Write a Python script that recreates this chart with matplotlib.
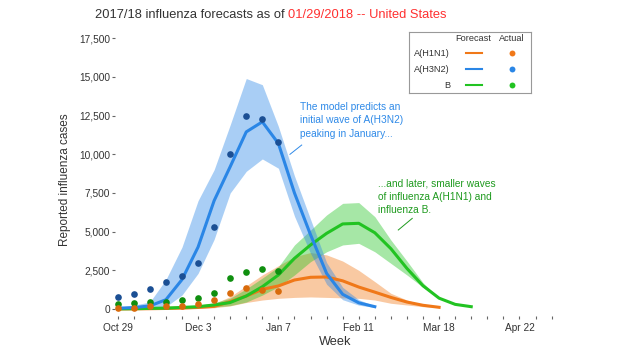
"""2017/18 influenza forecast chart"""
import matplotlib.pyplot as plt
import numpy as np

plt.rcParams['font.family'] = ['Liberation Sans', 'DejaVu Sans']

# weeks counted from Oct 29, 2017
tick_weeks = [0, 5, 10, 15, 20, 25]
tick_labels = ['Oct 29', 'Dec 3', 'Jan 7', 'Feb 11', 'Mar 18', 'Apr 22']
n_weeks = 28
y_ticks = [0, 2500, 5000, 7500, 10000, 12500, 15000, 17500]

strains = ['A(H1N1)', 'A(H3N2)', 'B']

# reported cases, weeks 0-10
actual_h1n1 = [90, 90, 190, 190, 200, 320, 580, 1010, 1340, 1230, 1160]
actual_h3n2 = [750, 1000, 1270, 1720, 2150, 2990, 5280, 10020, 12500, 12260, 10775]
actual_b = [320, 360, 470, 470, 580, 690, 1060, 1980, 2410, 2560, 2480]

# forecast median and band, from week 0
h1n1_mid = [5, 10, 20, 35, 60, 100, 170, 474, 840, 1270, 1490, 1875, 2050,
            2070, 1820, 1420, 1090, 750, 450, 240, 110]
h1n1_lo = [0, 0, 5, 10, 20, 40, 80, 200, 420, 580, 690, 750, 780,
           750, 720, 690, 580, 370, 260, 150, 100]
h1n1_hi = [10, 20, 40, 60, 100, 180, 350, 800, 1500, 2200, 2800, 3380, 3650,
           3500, 3100, 2500, 1770, 1015, 580, 260, 110]

h3n2_mid = [50, 90, 200, 600, 1900, 4000, 7000, 9200, 11450, 12100, 10700,
            7500, 4800, 2300, 950, 400, 150]
h3n2_lo = [0, 20, 50, 150, 900, 2300, 4500, 7500, 8900, 9700, 9100,
           6000, 3600, 1600, 600, 250, 100]
h3n2_hi = [100, 250, 450, 1900, 4000, 7000, 9000, 11900, 14900, 14500, 11800,
           8600, 5800, 3000, 1400, 600, 200]

b_mid = [10, 20, 40, 60, 100, 150, 260, 420, 840, 1440, 2200, 3275, 4140,
         4890, 5500, 5540, 4930, 3900, 2620, 1500, 700, 300, 150]
b_lo = [0, 5, 15, 30, 50, 80, 130, 220, 450, 900, 1440, 2200, 3060,
        3700, 4140, 4245, 3700, 2950, 2200, 1400, 700, 300, 150]
b_hi = [20, 40, 70, 100, 150, 250, 400, 700, 1300, 2000, 2730, 4140, 5100,
        6080, 6830, 6880, 5970, 4460, 3100, 1700, 700, 300, 150]

line_col = ['#f07818', '#2a86e6', '#22c322']
dot_col = ['#d96b0c', '#1b4f94', '#0f8f0f']

fig = plt.figure(figsize=(6.2, 3.5), dpi=100)
ax = fig.add_axes([115 / 620, 34.5 / 350, 440.6 / 620, 280.5 / 350])

mids = [h1n1_mid, h3n2_mid, b_mid]
los = [h1n1_lo, h3n2_lo, b_lo]
his = [h1n1_hi, h3n2_hi, b_hi]
acts = [actual_h1n1, actual_h3n2, actual_b]

# bands: orange, green, blue
for i in [0, 2, 1]:
    w = np.arange(len(mids[i]))
    ax.fill_between(w, los[i], his[i], color=line_col[i], alpha=0.4, lw=0)
for i in [0, 2, 1]:
    w = np.arange(len(mids[i]))
    ax.plot(w, mids[i], color=line_col[i], lw=2.2)
for i in [1, 2, 0]:
    w = np.arange(len(acts[i]))
    ax.scatter(w, acts[i], s=23, color=dot_col[i], zorder=5, lw=0, clip_on=False)

ax.set_xlim(-0.168, 27.25)
ax.set_ylim(-420, 17713)
for s in ax.spines.values():
    s.set_visible(False)

ax.set_xticks(tick_weeks)
ax.set_xticklabels(tick_labels)
ax.set_xticks(np.arange(n_weeks), minor=True)
ax.set_yticks(y_ticks)
ax.set_yticklabels(['{:,}'.format(v) for v in y_ticks])
ax.tick_params(axis='x', which='both', length=2.4, width=0.8, color='#666',
               pad=3, labelsize=7.3, labelcolor='#333')
ax.tick_params(axis='y', length=2, width=0.8, color='#666', pad=1.5,
               labelsize=7.3, labelcolor='#333')

fig.text(65 / 620, 1 - 180 / 350, 'Reported influenza cases', rotation=90,
         ha='center', va='center', fontsize=8.5, color='#333')
fig.text(335 / 620, 1 - 342 / 350, 'Week', ha='center', va='center',
         fontsize=9.2, color='#333')

# annotations
blue_txt = '#2f8ae8'
green_txt = '#1e9a1e'
ax.text(11.34, 13400, 'The model predicts an\ninitial wave of A(H3N2)\npeaking in January...',
        color=blue_txt, fontsize=7.3, va='top', linespacing=1.45)
ax.plot([11.45, 10.72], [10600, 10000], color=blue_txt, lw=0.7)
ax.text(16.18, 8420, '...and later, smaller waves\nof influenza A(H1N1) and\ninfluenza B.',
        color=green_txt, fontsize=7.3, va='top', linespacing=1.4)
ax.plot([18.33, 17.46], [5860, 5107], color=green_txt, lw=0.7)

# legend box
lax = fig.add_axes([409 / 620, (350 - 93) / 350, 122 / 620, 61 / 350])
lax.set_xlim(0, 1)
lax.set_ylim(0, 1)
lax.set_xticks([])
lax.set_yticks([])
for s in lax.spines.values():
    s.set_color('#999')
    s.set_linewidth(0.8)
lax.text(0.525, 0.897, 'Forecast', ha='center', va='center', fontsize=6.6, color='#333')
lax.text(0.844, 0.897, 'Actual', ha='center', va='center', fontsize=6.6, color='#333')
row_y = [0.651, 0.389, 0.131]
for i, name in enumerate(strains):
    lax.text(0.336, row_y[i], name, ha='right', va='center', fontsize=6.6, color='#333')
    lax.plot([0.467, 0.598], [row_y[i], row_y[i]], color=line_col[i], lw=1.5)
    lax.scatter([0.844], [row_y[i]], s=18, color=line_col[i], lw=0)

# title in two colours
t1 = fig.text(95 / 620, 1 - 15 / 350, '2017/18 influenza forecasts as of ',
              color='#333', fontsize=9.3, va='center')
fig.canvas.draw()
bb = t1.get_window_extent()
fig.text(bb.x1 / fig.bbox.width, 1 - 15 / 350, '01/29/2018 -- United States',
         color='#ff3030', fontsize=9.3, va='center')

fig.savefig('out.png', dpi=100)
